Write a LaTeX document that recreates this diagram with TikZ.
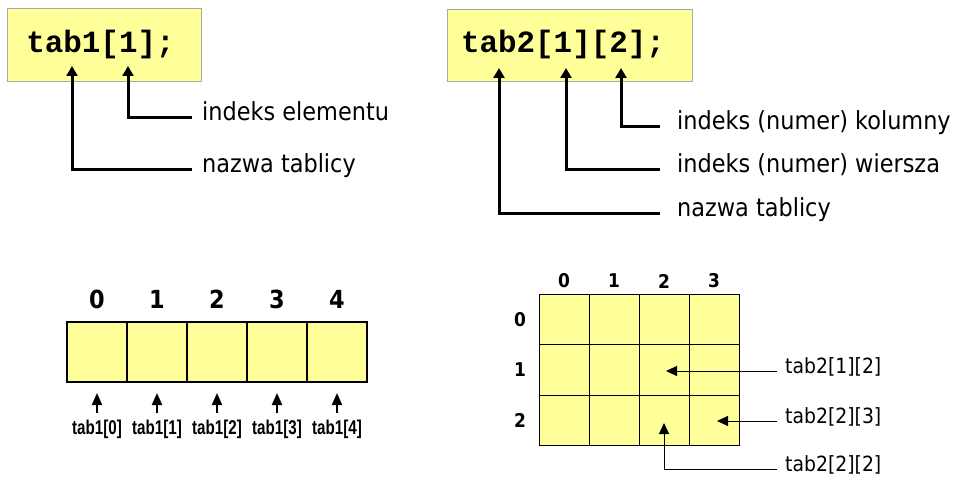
\documentclass[tikz,border=0pt]{standalone}
\usepackage{fontspec}
\newfontfamily\labfont{DejaVu Sans Condensed}
\newfontfamily\codefont{Liberation Mono}
\newfontfamily\narrowfont[FakeStretch=0.76]{Liberation Sans}
\usetikzlibrary{arrows.meta}
\definecolor{yel}{HTML}{FFFF99}
\definecolor{boxgray}{HTML}{A8A8A8}
\begin{document}
\begin{tikzpicture}[x=1bp,y=-1bp,
  codebox/.style={draw=boxgray,line width=1bp,fill=yel,inner sep=0},
  codetxt/.style={font=\codefont\bfseries\fontsize{31}{31}\selectfont,inner sep=0},
  lbl/.style={font=\labfont\fontsize{25}{25}\selectfont,anchor=west,inner sep=0,text height=0.75em,text depth=0.2em},
  lblsm/.style={font=\labfont\fontsize{21}{21}\selectfont,anchor=west,inner sep=0,text height=0.75em,text depth=0.2em},
  bigarr/.style={line width=3bp,-{Triangle[length=10bp,width=11bp]}},
  midarr/.style={line width=2bp,-{Triangle[length=12bp,width=10bp]}},
  thinarr/.style={line width=1bp,-{Triangle[length=11bp,width=10bp]}},
  cell/.style={draw=black,fill=yel,line width=2bp,minimum width=60bp,minimum height=60bp,inner sep=0},
  gcell/.style={draw=black,fill=yel,line width=1bp,minimum width=50bp,minimum height=50bp,inner sep=0},
  digit/.style={font=\labfont\bfseries\fontsize{25}{25}\selectfont,inner sep=0},
  gdigit/.style={font=\labfont\bfseries\fontsize{19}{19}\selectfont,inner sep=0},
  idx/.style={font=\narrowfont\bfseries\fontsize{20}{20}\selectfont,anchor=base,inner sep=0}
]
\useasboundingbox (0,0) rectangle (962,480);

% top-left
\node[codebox,minimum width=193bp,minimum height=73bp] (c1) at (104.5,45.5) {};
\node[codetxt] (c1t) at (100.5,45) {tab1[1];};
\coordinate (a11) at (72,66);
\coordinate (a12) at (128,66);
\node[lbl] (l12) at (202,118) {indeks elementu};
\node[lbl] (l11) at (202,170) {nazwa tablicy};
\draw[bigarr] ([xshift=-10bp]l12.west) -| (a12);
\draw[bigarr] ([xshift=-10bp]l11.west) -| (a11);

% top-right
\node[codebox,minimum width=245bp,minimum height=72bp] (c2) at (569.5,46) {};
\node[codetxt] (c2t) at (563,45) {tab2[1][2];};
\coordinate (a21) at (499,68);
\coordinate (a22) at (566,68);
\coordinate (a23) at (621,68);
\node[lbl] (l23) at (677,127) {indeks (numer) kolumny};
\node[lbl] (l22) at (677,170) {indeks (numer) wiersza};
\node[lbl] (l21) at (677,214) {nazwa tablicy};
\draw[bigarr] ([xshift=-17bp]l23.west) -| (a23);
\draw[bigarr] ([xshift=-17bp]l22.west) -| (a22);
\draw[bigarr] ([xshift=-17bp]l21.west) -| (a21);

% bottom-left 1D array
\foreach \i in {0,...,4}{
  \node[cell] (c\i) at ({97+60*\i},352) {};
  \node[digit] (d\i) at ({97+60*\i},299) {\i};
  \node[idx] (t\i) at ({97+60*\i},434) {tab1[\i]};
  \draw[midarr] ([yshift=21bp]t\i.base) -- ++(0,-20);
}

% bottom-right 2D array
\foreach \r in {0,1,2}{
  \foreach \c in {0,...,3}{
    \node[gcell] (g-\r-\c) at ({564+50*\c},{320+50*\r}) {};
  }
  \node[gdigit] (rl\r) at (520,{320+50*\r}) {\r};
}
\foreach \c in {0,...,3}{
  \node[gdigit] (cl\c) at ({564+50*\c},281) {\c};
}
\node[lblsm] (r1) at (785,371) {tab2[1][2]};
\node[lblsm] (r2) at (785,421) {tab2[2][3]};
\node[lblsm] (r3) at (785,469) {tab2[2][2]};
\draw[thinarr] ([xshift=-8bp]r1.west) -- ([xshift=2bp,yshift=-1bp]g-1-2.center);
\draw[thinarr] ([xshift=-8bp]r2.west) -- ([xshift=3bp,yshift=-1bp]g-2-3.center);
\draw[thinarr] ([xshift=-8bp]r3.west) -| ([yshift=-3bp]g-2-2.center);
\end{tikzpicture}
\end{document}
